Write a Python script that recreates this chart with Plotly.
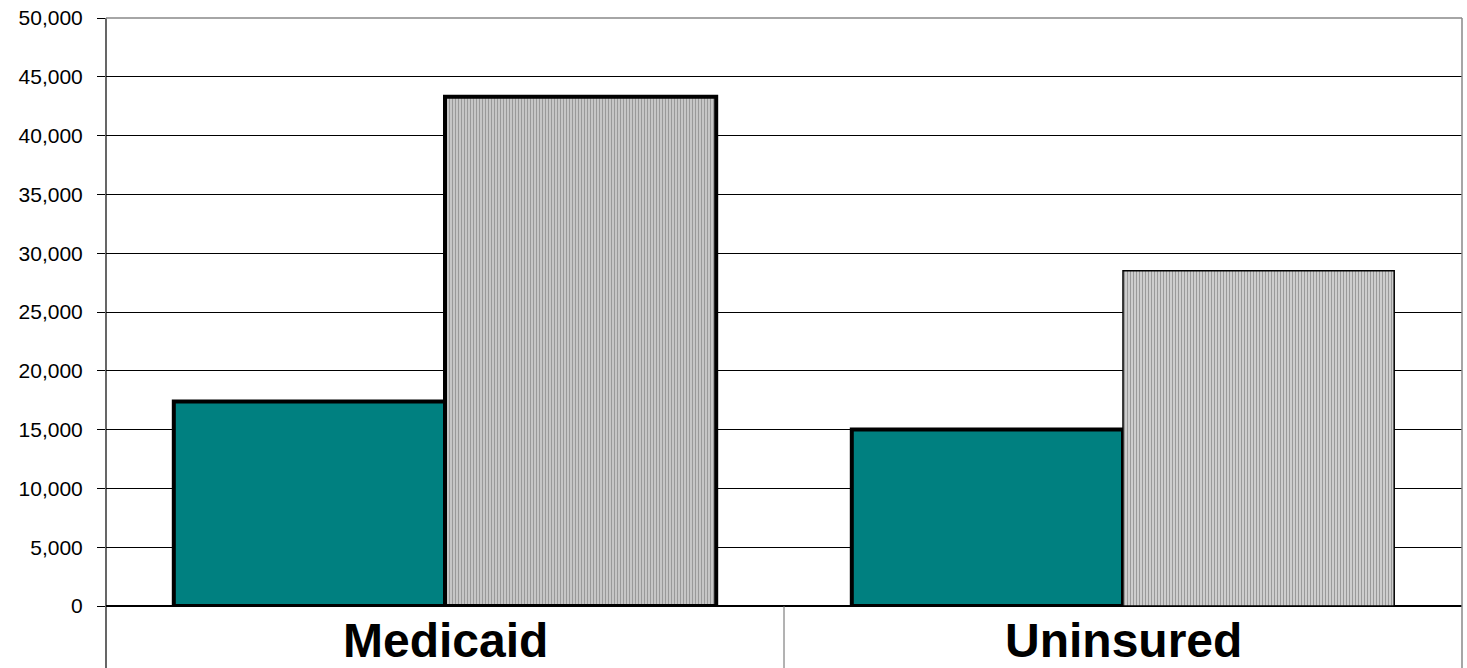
import plotly.graph_objects as go

# Data
categories = ["Medicaid", "Uninsured"]
series_a = [17400, 15000]
series_b = [43300, 28500]
y_ticks = list(range(0, 50001, 5000))

FONT = "Arial, 'Liberation Sans', sans-serif"
PLOT_H = 668 - 18 - 62

fig = go.Figure()

fig.add_trace(go.Bar(
    x=categories, y=series_a, name="Series A",
    marker=dict(color="#008080", line=dict(color="black", width=[4, 4])),
))
fig.add_trace(go.Bar(
    x=categories, y=series_b, name="Series B",
    marker=dict(
        color="#ffffff",
        line=dict(color="black", width=[4, 1.5]),
        pattern=dict(shape="|", fgcolor="#999999", bgcolor=["#d0d0d0", "#ffffff"],
                     size=3, solidity=[0.45, 0.66], fillmode="replace"),
    ),
))

# Category labels in the band below the axis
for cat in categories:
    fig.add_annotation(x=cat, xref="x", y=-62 / PLOT_H, yref="paper",
                       yanchor="bottom", text="<b>%s</b>" % cat, showarrow=False,
                       borderpad=0,
                       font=dict(family=FONT, size=48, color="black"))

# Axis frame and category dividers
shapes = [
    dict(type="line", xref="paper", yref="paper", x0=0, x1=0, y0=-0.2, y1=1,
         line=dict(color="black", width=1.2)),
    dict(type="line", xref="paper", yref="paper", x0=1, x1=1, y0=-0.2, y1=1,
         line=dict(color="#888888", width=1.5)),
    dict(type="line", xref="paper", yref="paper", x0=0, x1=1, y0=1, y1=1,
         line=dict(color="#888888", width=1.5)),
    dict(type="line", xref="x", yref="paper", x0=0.5, x1=0.5, y0=-0.2, y1=0,
         line=dict(color="#666666", width=1)),
]
fig.update_layout(shapes=shapes)

fig.update_layout(
    width=1467, height=668,
    margin=dict(l=106, r=5, t=18, b=62),
    paper_bgcolor="white", plot_bgcolor="white",
    barmode="group", bargap=0.2, bargroupgap=0,
    showlegend=False,
    font=dict(family=FONT, color="black"),
    xaxis=dict(range=[-0.5, 1.5], showticklabels=False, ticks="",
               showgrid=False, zeroline=False, showline=False),
    yaxis=dict(range=[0, 50000], tickvals=y_ticks, tickformat=",",
               tickfont=dict(family=FONT, size=21, color="black"),
               ticks="outside", ticklen=8, tickcolor="black",
               ticklabelstandoff=10,
               showgrid=True, gridcolor="black", gridwidth=1,
               zeroline=True, zerolinecolor="black", zerolinewidth=1.5,
               showline=False),
)

fig.write_html("out.html")
